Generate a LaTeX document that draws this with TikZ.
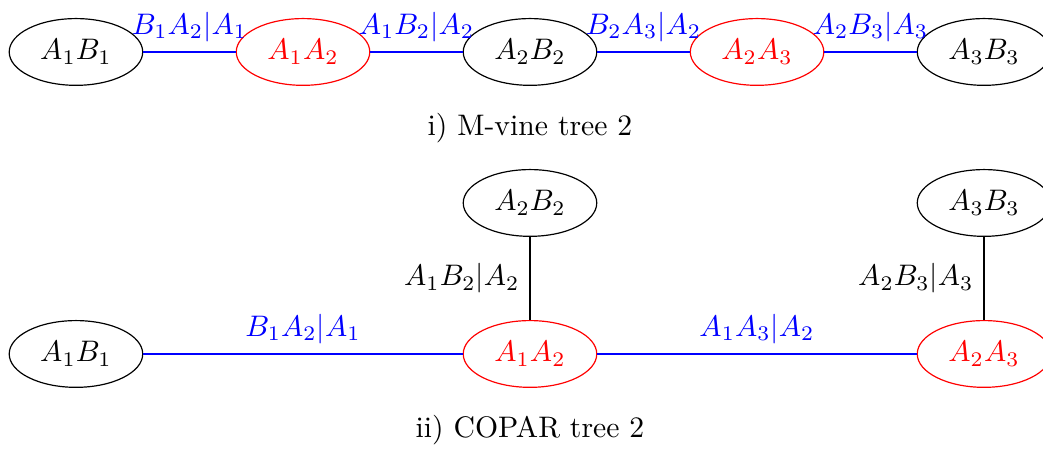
\documentclass[tikz,border=0pt]{standalone}
\usepackage{amsmath,amssymb}
\usetikzlibrary{shapes.geometric}

\begin{document}
\begin{tikzpicture}[scale=1,
  vert/.style={ellipse,draw,minimum width=1.58cm,minimum height=0.79cm,inner sep=0pt},
  pair/.style={vert,draw=red,text=red},
  blue edge/.style={draw=blue},
  blue lab/.style={text=blue}]
\useasboundingbox (0,0) rectangle (12.343,-5.325);

% i) M-vine tree 2
\node[vert] (m1) at (0.899,-0.615) {$A_1B_1$};
\node[pair] (m2) at (3.586,-0.615) {$A_1A_2$};
\node[vert] (m3) at (6.272,-0.615) {$A_2B_2$};
\node[pair] (m4) at (8.959,-0.615) {$A_2A_3$};
\node[vert] (m5) at (11.645,-0.615) {$A_3B_3$};

\draw[blue edge] (m1) -- node[above,blue lab] {$B_1A_2|A_1$} (m2);
\draw[blue edge] (m2) -- node[above,blue lab] {$A_1B_2|A_2$} (m3);
\draw[blue edge] (m3) -- node[above,blue lab] {$B_2A_3|A_2$} (m4);
\draw[blue edge] (m4) -- node[above,blue lab] {$A_2B_3|A_3$} (m5);

\node (cap1) at (6.272,-1.515) {i) M-vine tree 2};

% ii) COPAR tree 2
\node[vert] (c3) at (6.272,-2.402) {$A_2B_2$};
\node[vert] (c5) at (11.645,-2.402) {$A_3B_3$};
\node[vert] (c1) at (0.899,-4.189) {$A_1B_1$};
\node[pair] (c2) at (6.272,-4.189) {$A_1A_2$};
\node[pair] (c4) at (11.645,-4.189) {$A_2A_3$};

\draw[blue edge] (c1) -- node[above,blue lab] {$B_1A_2|A_1$} (c2);
\draw[blue edge] (c2) -- node[above,blue lab] {$A_1A_3|A_2$} (c4);
\draw (c3) -- node[left] {$A_1B_2|A_2$} (c2);
\draw (c5) -- node[left] {$A_2B_3|A_3$} (c4);

\node (cap2) at (6.272,-5.089) {ii) COPAR tree 2};

\end{tikzpicture}
\end{document}
